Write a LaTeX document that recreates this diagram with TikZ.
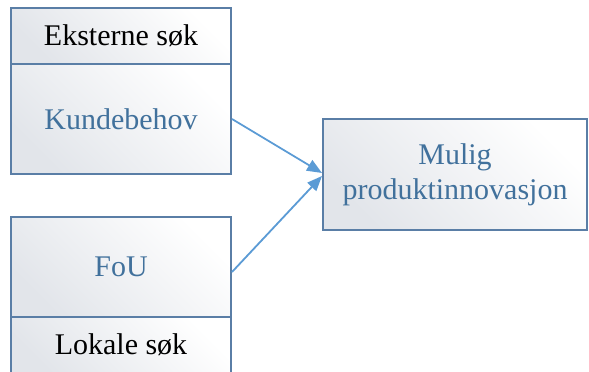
\documentclass[tikz,border=0pt]{standalone}
\usepackage{fontspec}
\setmainfont{Liberation Serif}
\usetikzlibrary{arrows.meta}
\definecolor{bordc}{HTML}{5A7EA6}
\definecolor{txtb}{HTML}{41719C}
\definecolor{arrc}{HTML}{5B9BD5}
\definecolor{shadec}{HTML}{E2E5EA}
\tikzset{
  box/.style={draw=bordc, line width=2pt, rectangle, inner sep=0pt, align=center,
    shading=axis, top color=shadec, bottom color=white, shading angle=135,
    font=\fontsize{30}{35}\selectfont},
  blue/.style={text=txtb},
  black/.style={text=black},
  conn/.style={draw=arrc, line width=1.8pt, -{Triangle[length=15pt,width=12pt]}}
}
\begin{document}
\begin{tikzpicture}[x=1pt,y=-1pt]
\useasboundingbox (0,0) rectangle (589,372);
\fill[white] (0,0) rectangle (589,372);
\node[box, black, minimum width=220pt, minimum height=56pt] (ext) at (121,36) {Eksterne søk};
\node[box, blue, minimum width=220pt, minimum height=110pt] (kunde) at (121,119) {Kundebehov};
\node[box, blue, minimum width=220pt, minimum height=100pt] (fou) at (121,267) {\raisebox{-4pt}{FoU}};
\node[box, black, minimum width=220pt, minimum height=58pt] (lok) at (121,346) {\raisebox{4pt}{Lokale søk}};
\node[box, blue, minimum width=264pt, minimum height=111pt, text width=260pt] (mulig) at (455,174.5) {Mulig\\produktinnovasjon};
\draw[conn] (kunde.east) -- ([yshift=1.5pt]mulig.west);
\draw[conn] ([yshift=-5pt]fou.east) -- ([yshift=-1.5pt]mulig.west);
\end{tikzpicture}
\end{document}
